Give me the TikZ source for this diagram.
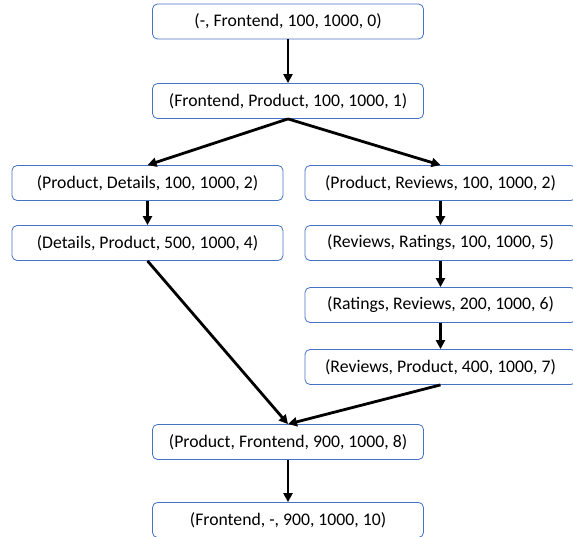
\documentclass[tikz,border=0pt]{standalone}
\usepackage{fontspec}
\setmainfont{Carlito}
\usetikzlibrary{arrows.meta}
\definecolor{boxline}{HTML}{4472C4}
\begin{document}
\begin{tikzpicture}
  [x=1pt,y=-1pt,every node/.style={draw=boxline,line width=0.8pt,rounded corners=5pt,fill=white,minimum width=271pt,minimum height=35pt,inner sep=0pt,font=\fontsize{17.7}{20}\selectfont}]
  \useasboundingbox (0,0) rectangle (573,537);
  \node (n0) at (288,21.5) {(-, Frontend, 100, 1000, 0)};
  \node (n1) at (288,101) {(Frontend, Product, 100, 1000, 1)};
  \node (n2) at (147.5,183) {(Product, Details, 100, 1000, 2)};
  \node (n3) at (440.5,183) {(Product, Reviews, 100, 1000, 2)};
  \node (n4) at (147.5,243) {(Details, Product, 500, 1000, 4)};
  \node (n5) at (440.5,243) {(Reviews, Ratings, 100, 1000, 5)};
  \node (n6) at (440.5,305) {(Ratings, Reviews, 200, 1000, 6)};
  \node (n7) at (440.5,367) {(Reviews, Product, 400, 1000, 7)};
  \node (n8) at (288,442) {(Product, Frontend, 900, 1000, 8)};
  \node (n9) at (288,520) {(Frontend, -, 900, 1000, 10)};
  \foreach \from/\to in {n0/n1,n1/n2,n1/n3,n2/n4,n3/n5,n5/n6,n6/n7,n4/n8,n7/n8,n8/n9}
    \draw[line width=2.8pt,-{Triangle[length=9pt,width=9pt]}] (\from.south) -- (\to.north);

\end{tikzpicture}
\end{document}
